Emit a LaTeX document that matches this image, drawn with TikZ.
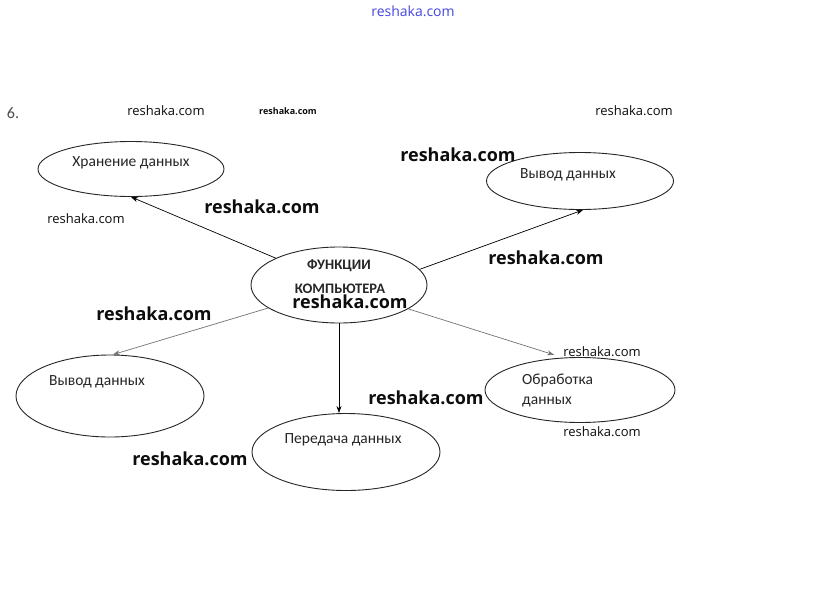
\documentclass[tikz,border=0pt]{standalone}
\usepackage{fontspec}
\setmainfont{Carlito}
\newfontfamily\wmfont{Open Sans}
\usetikzlibrary{shapes.geometric, arrows.meta}

\tikzset{
  oval/.style={ellipse, draw=black!85, line width=0.9pt, inner sep=0pt},
  txt/.style={inner sep=0pt, text=black!85, font=\fontsize{15.5}{16}\selectfont},
  wmbig/.style={inner sep=0pt, text=black!95, font=\wmfont\bfseries\fontsize{18}{18}\selectfont},
  wmmid/.style={inner sep=0pt, text=black!95, font=\wmfont\fontsize{13}{13}\selectfont},
  wmsmall/.style={inner sep=0pt, text=black!95, font=\wmfont\bfseries\fontsize{9}{9}\selectfont},
  link/.style={->, line width=0.7pt}
}

\begin{document}
\begin{tikzpicture}[>={Stealth[length=7pt, width=5pt]}, x=1pt, y=-1pt]
  \fill[white] (0,0) rectangle (823,598);
  \useasboundingbox (0,0) rectangle (823,598);

  % овалы
  \node[oval, minimum width=176pt, minimum height=76pt] (fk) at (339,285) {};
  \node[oval, minimum width=186pt, minimum height=55pt] (hr) at (131,169) {};
  \node[oval, minimum width=187pt, minimum height=57pt] (vy) at (580,181) {};
  \node[oval, minimum width=188pt, minimum height=82pt] (vl) at (110,396) {};
  \node[oval, minimum width=188pt, minimum height=77pt] (pd) at (346,452) {};
  \node[oval, minimum width=190pt, minimum height=65pt] (ob) at (580,390) {};

  % подписи
  \node[txt, font=\bfseries\fontsize{14.5}{15}\selectfont] (fk1) at (339,266) {ФУНКЦИИ};
  \node[txt, font=\bfseries\fontsize{14.5}{15}\selectfont] (fk2) at (340,289) {КОМПЬЮТЕРА};
  \node[txt] (hr-t) at (131,163) {Хранение данных};
  \node[txt] (vy-t) at (568,175) {Вывод данных};
  \node[txt] (vl-t) at (97,382) {Вывод данных};
  \node[txt] (pd-t) at (343,440) {Передача данных};
  \node[txt, anchor=west] (ob1) at (522,380) {Обработка};
  \node[txt, anchor=west] (ob2) at (522,402) {данных};
  \node[txt, text=black!70, font=\fontsize{16}{16}\selectfont] (num) at (13,113) {6.};

  % стрелки
  \draw[link] (fk.157) -- (hr.south);
  \draw[link] (fk.11) -- (vy.-84);
  \draw[link, black!55] (fk.198) -- (vl.86);
  \draw[link] (fk.south) -- (pd.north -| fk.south);
  \draw[link, black!55, shorten >=9pt] (fk.-19) -- (ob.118);

  % водяные знаки
  \node[inner sep=0pt, text={rgb,255:red,70;green,70;blue,225},
        font=\wmfont\fontsize{14}{14}\selectfont] (wm0) at (413,11) {reshaka.com};
  \foreach \x/\y [count=\i] in {458/155,262/207,546/258,350/302,154/314,426/398,190/459}{
    \node[wmbig] (wb\i) at (\x,\y) {reshaka.com};
  }
  \foreach \x/\y [count=\i] in {166/111,634/111,86/219,602/352,602/432}{
    \node[wmmid] (wm\i) at (\x,\y) {reshaka.com};
  }
  \node[wmsmall] (ws) at (288,111) {reshaka.com};
\end{tikzpicture}
\end{document}
